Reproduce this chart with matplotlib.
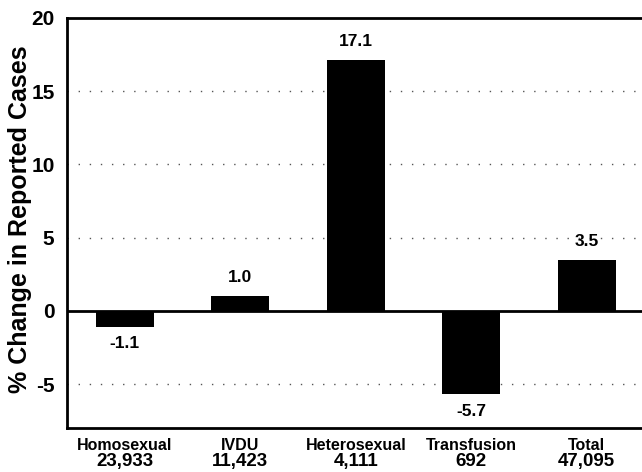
import matplotlib
matplotlib.use("Agg")
import matplotlib.pyplot as plt
import matplotlib.transforms as mtransforms

categories = ["Homosexual", "IVDU", "Heterosexual", "Transfusion", "Total"]
counts = ["23,933", "11,423", "4,111", "692", "47,095"]
values = [-1.1, 1.0, 17.1, -5.7, 3.5]
yticks = [-5, 0, 5, 10, 15, 20]

plt.rcParams['font.family'] = ['Liberation Sans', 'DejaVu Sans']
fig = plt.figure(figsize=(6.42, 4.72), dpi=100)
ax = fig.add_axes([0.1044, 0.0932, 0.8995, 0.8687])

x = list(range(len(categories)))
ax.bar(x, values, width=0.5, color='black', zorder=3)
ax.axhline(0, color='black', lw=2.0, zorder=4)
for yv in [-5, 5, 10, 15]:
    ax.axhline(yv, color='#555555', lw=1.0, ls=(0, (1, 7)), zorder=1)

for xi, v in zip(x, values):
    if v >= 0:
        ax.text(xi, v + 0.75, f"{v:.1f}", ha='center', va='bottom', fontsize=12.5, fontweight='bold')
    else:
        ax.text(xi, v - 0.65, f"{v:.1f}", ha='center', va='top', fontsize=12.5, fontweight='bold')

ax.set_xlim(-0.5, 4.5)
ax.set_ylim(-8, 20)
ax.set_yticks(yticks)
ax.set_yticklabels([str(t) for t in yticks], fontsize=15, fontweight='bold')
ax.set_xticks(x)
ax.set_xticklabels(categories, fontsize=11.5, fontweight='bold')
ax.tick_params(axis='both', length=0)
ax.tick_params(axis='y', pad=9)
ax.tick_params(axis='x', pad=7)
trans = mtransforms.blended_transform_factory(ax.transData, fig.transFigure)
for xi, n in zip(x, counts):
    ax.text(xi, 1 - 466 / 472, n, transform=trans, ha='center', va='baseline',
            fontsize=13.5, fontweight='bold', clip_on=False)
for s in ['left', 'bottom', 'top']:
    ax.spines[s].set_linewidth(2.0)
ax.spines['right'].set_visible(False)
fig.text(20 / 642, 1 - 219 / 472, "% Change in Reported Cases", rotation=90,
         ha='center', va='center', fontsize=18, fontweight='bold')

fig.savefig("out.png", dpi=100)
